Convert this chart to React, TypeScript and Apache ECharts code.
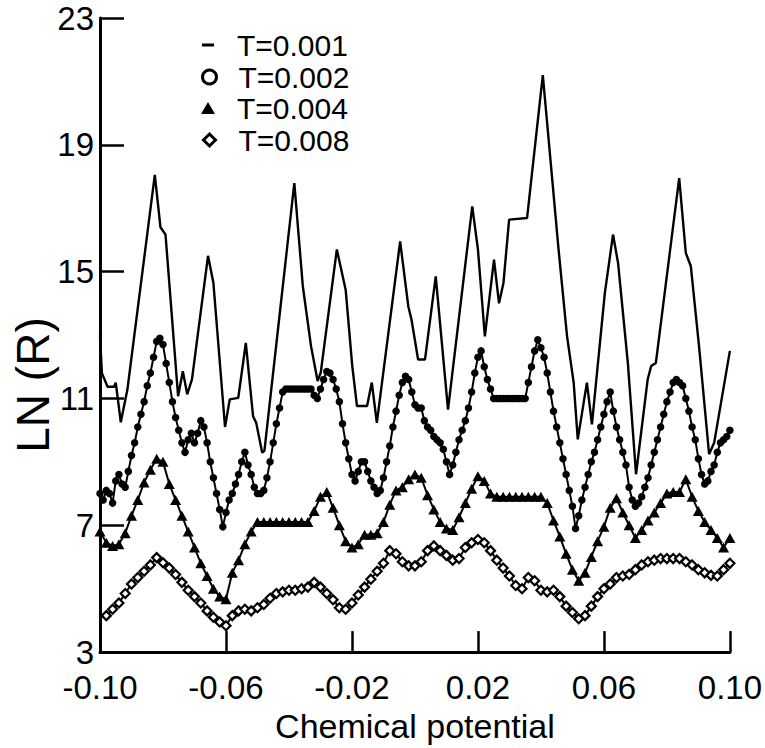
import React, { useEffect, useRef } from "react";
import * as echarts from "echarts";

// ---- Data ----
const X_TICKS = [-0.1, -0.06, -0.02, 0.02, 0.06, 0.1];
const Y_TICKS = [3, 7, 11, 15, 19, 23];
const SERIES_NAMES = ["T=0.001", "T=0.002", "T=0.004", "T=0.008"];

// T=0.001 : plain line, vertices
const T001_X = [-0.1, -0.0994, -0.0976, -0.0955, -0.095, -0.0934, -0.0913, -0.0826, -0.0808, -0.0792,
  -0.0752, -0.0737, -0.0723, -0.0708, -0.0657, -0.064, -0.0603, -0.0588, -0.0561, -0.0537,
  -0.0514, -0.0504, -0.0485, -0.0478, -0.0383, -0.0356, -0.033, -0.0309, -0.0299, -0.0248,
  -0.022, -0.0199, -0.0184, -0.0152, -0.0137, -0.0121, -0.0047, -0.0021, -0.0011, 0.001,
  0.0032, 0.0066, 0.0105, 0.0182, 0.02, 0.0222, 0.0251, 0.0267, 0.0281, 0.0299,
  0.0356, 0.0406, 0.0456, 0.0483, 0.0504, 0.0517, 0.0546, 0.0562, 0.0603, 0.0629,
  0.0645, 0.0676, 0.0702, 0.0739, 0.075, 0.0765, 0.0839, 0.086, 0.0876, 0.0902,
  0.0934, 0.095, 0.1];
const T001_Y = [13.0, 11.8, 11.37, 11.37, 11.5, 10.25, 11.28, 18.05, 16.4, 16.17,
  11.07, 11.86, 11.13, 11.6, 15.5, 14.65, 10.1, 10.97, 11.02, 12.75,
  10.44, 10.23, 9.29, 9.35, 17.79, 14.54, 12.65, 11.55, 11.82, 15.7,
  14.43, 12.02, 10.76, 10.76, 11.5, 10.23, 15.95, 13.9, 13.49, 12.23,
  12.23, 14.85, 10.65, 17.06, 15.7, 12.96, 15.38, 14.0, 14.64, 16.64,
  16.69, 21.2, 15.7, 12.96, 11.5, 9.71, 11.5, 10.18, 14.33, 16.17,
  15.27, 12.12, 8.61, 11.6, 12.02, 12.12, 17.95, 15.59, 15.17, 12.65,
  9.24, 9.6, 12.5];

// T=0.002 : sampled every 0.001 from -0.100 to 0.100
const T002_START = -0.1;
const T002_STEP = 0.001;
const T002_Y = [
  8.0, 7.8, 8.1, 8.0, 7.7, 8.4, 8.6, 8.3, 8.2, 8.7,
  9.2, 9.6, 10.1, 10.5, 10.9, 11.4, 11.8, 12.3, 12.8, 12.9,
  12.7, 12.1, 11.5, 10.9, 10.4, 10.0, 9.6, 9.3, 9.7, 9.9,
  9.6, 9.9, 10.3, 10.1, 9.6, 9.0, 8.5, 8.0, 7.5, 6.95,
  7.4, 7.8, 8.0, 8.3, 8.6, 9.0, 9.3, 8.9, 8.6, 8.2,
  8.0, 8.0, 8.1, 8.5, 9.0, 9.6, 10.2, 10.7, 11.2, 11.3,
  11.3, 11.3, 11.3, 11.3, 11.3, 11.3, 11.3, 11.3, 11.1, 11.0,
  11.3, 11.6, 11.85, 11.8, 11.6, 11.3, 10.9, 10.2, 9.6, 9.1,
  8.6, 8.4, 8.7, 9.0, 9.0, 8.7, 8.4, 8.2, 8.0, 8.1,
  8.5, 9.0, 9.5, 10.1, 10.6, 11.1, 11.5, 11.7, 11.6, 11.2,
  10.8, 10.7, 10.7, 10.3, 10.1, 10.0, 9.8, 9.7, 9.6, 9.4,
  9.0, 8.6, 8.9, 9.3, 9.7, 10.0, 10.3, 10.7, 11.2, 11.8,
  12.3, 12.5, 12.0, 11.6, 11.3, 11.0, 11.0, 11.0, 11.0, 11.0,
  11.0, 11.0, 11.0, 11.0, 11.0, 11.0, 11.5, 12.0, 12.5, 12.85,
  12.6, 12.3, 11.8, 11.2, 10.6, 10.1, 9.6, 9.1, 8.6, 8.1,
  7.6, 6.9, 7.3, 7.8, 8.2, 8.6, 9.0, 9.3, 9.7, 10.1,
  10.5, 10.9, 11.2, 10.6, 10.1, 9.7, 9.3, 8.9, 8.2, 7.8,
  7.6, 7.7, 7.9, 8.2, 8.5, 8.9, 9.3, 9.7, 10.1, 10.5,
  10.9, 11.2, 11.5, 11.6, 11.5, 11.4, 11.0, 10.6, 10.1, 9.7,
  9.1, 8.6, 8.3, 8.4, 8.7, 8.9, 9.3, 9.6, 9.7, 9.8,
  10.0];

// T=0.004 : sampled every 0.002 from -0.100 to 0.100
const T004_START = -0.1;
const T004_STEP = 0.002;
const T004_Y = [
  6.8, 6.45, 6.35, 6.4, 6.75, 7.3, 7.8, 8.35, 8.75, 9.1,
  9.0, 8.3, 7.8, 7.3, 6.8, 6.3, 5.8, 5.4, 5.0, 4.75,
  4.67, 5.5, 5.9, 6.4, 6.8, 7.1, 7.1, 7.1, 7.1, 7.1,
  7.1, 7.1, 7.1, 7.1, 7.45, 7.9, 8.05, 7.55, 7.0, 6.5,
  6.3, 6.4, 6.7, 6.7, 6.75, 7.1, 7.65, 8.1, 8.2, 8.45,
  8.6, 8.5, 7.95, 7.5, 7.1, 6.9, 6.85, 7.25, 7.7, 8.15,
  8.55, 8.4, 8.0, 7.9, 7.9, 7.9, 7.9, 7.9, 7.9, 7.9,
  7.9, 7.7, 7.15, 6.65, 6.1, 5.6, 5.25, 5.5, 6.0, 6.5,
  6.95, 7.55, 7.85, 7.4, 7.0, 6.6, 6.85, 7.15, 7.4, 7.7,
  8.0, 8.05, 8.05, 8.45, 7.9, 7.45, 7.1, 6.85, 6.6, 6.3,
  6.6];

// T=0.008 : sampled every 0.002 from -0.098 to 0.100
const T008_START = -0.098;
const T008_STEP = 0.002;
const T008_Y = [
  4.15, 4.35, 4.55, 4.85, 5.15, 5.35, 5.55, 5.75, 5.98, 5.82,
  5.65, 5.45, 5.2, 4.95, 4.75, 4.55, 4.3, 4.1, 3.95, 3.83,
  4.15, 4.3, 4.35, 4.3, 4.4, 4.5, 4.7, 4.85, 4.9, 4.95,
  4.95, 5.0, 5.05, 5.2, 5.05, 4.85, 4.65, 4.4, 4.35, 4.55,
  4.8, 5.05, 5.3, 5.55, 5.8, 6.2, 6.1, 5.85, 5.72, 5.72,
  5.85, 6.2, 6.35, 6.2, 6.05, 5.9, 5.95, 6.3, 6.45, 6.55,
  6.45, 6.2, 5.9, 5.65, 5.4, 5.1, 5.0, 5.35, 5.25, 4.95,
  4.9, 4.95, 4.75, 4.45, 4.25, 4.05, 4.15, 4.45, 4.75, 5.0,
  5.15, 5.35, 5.4, 5.45, 5.6, 5.75, 5.85, 5.9, 5.95, 5.95,
  5.95, 5.95, 5.85, 5.75, 5.6, 5.5, 5.42, 5.4, 5.6, 5.8];

const FONT = "Liberation Sans, Arial, sans-serif";

function gridPairs(start: number, step: number, ys: number[]) {
  return ys.map((v, i) => [Number((start + i * step).toFixed(4)), v]);
}

export default function App() {
  const ref = useRef<HTMLDivElement>(null);

  useEffect(() => {
    if (!ref.current) return;
    const chart = echarts.init(ref.current, undefined, { renderer: "svg" });

    const legendBase = {
      orient: "horizontal",
      padding: 0,
      itemGap: 0,
      selectedMode: false,
    };
    const legendText = (padLeft: number) => ({
      fontSize: 30,
      lineHeight: 30,
      fontFamily: FONT,
      color: "#000",
      padding: [0, 0, 0, padLeft],
    });

    const option: any = {
      animation: false,
      backgroundColor: "#fff",
      grid: { left: 100, right: 31, top: 18, bottom: 93, containLabel: false },
      xAxis: {
        type: "value",
        min: -0.1,
        max: 0.1,
        name: "Chemical potential",
        nameLocation: "middle",
        nameGap: 46,
        nameTextStyle: { fontSize: 34, fontFamily: FONT, color: "#000" },
        axisLine: { show: true, onZero: false, lineStyle: { color: "#000", width: 3 } },
        axisTick: {
          show: true,
          inside: true,
          length: 21,
          customValues: X_TICKS,
          lineStyle: { color: "#000", width: 2.5 },
        },
        axisLabel: {
          show: true,
          customValues: X_TICKS,
          margin: 19,
          fontSize: 33,
          fontFamily: FONT,
          color: "#000",
          formatter: (v: number) => v.toFixed(2),
        },
        splitLine: { show: false },
      },
      yAxis: {
        type: "value",
        min: 3,
        max: 23,
        axisLine: { show: true, onZero: false, lineStyle: { color: "#000", width: 3 } },
        axisTick: {
          show: true,
          inside: true,
          length: 24,
          customValues: Y_TICKS,
          lineStyle: { color: "#000", width: 2.5 },
        },
        axisLabel: {
          show: true,
          customValues: Y_TICKS,
          margin: 6,
          fontSize: 33,
          fontFamily: FONT,
          color: "#000",
          formatter: (v: number) => String(v),
        },
        splitLine: { show: false },
      },
      legend: [
        {
          ...legendBase,
          left: 202,
          top: 30,
          itemWidth: 12,
          itemHeight: 3,
          textStyle: legendText(18),
          data: [{ name: SERIES_NAMES[0], icon: "rect", itemStyle: { color: "#000" } }],
        },
        {
          ...legendBase,
          left: 201,
          top: 62,
          itemWidth: 14,
          itemHeight: 14,
          textStyle: legendText(17),
          data: [{ name: SERIES_NAMES[1], icon: "circle", itemStyle: { color: "#fff", borderColor: "#000", borderWidth: 3 } }],
        },
        {
          ...legendBase,
          left: 201,
          top: 93,
          itemWidth: 14,
          itemHeight: 12,
          textStyle: legendText(17),
          data: [{ name: SERIES_NAMES[2], icon: "triangle", itemStyle: { color: "#000" } }],
        },
        {
          ...legendBase,
          left: 202,
          top: 125,
          itemWidth: 12,
          itemHeight: 12,
          textStyle: legendText(18),
          data: [{ name: SERIES_NAMES[3], icon: "diamond", itemStyle: { color: "#fff", borderColor: "#000", borderWidth: 3 } }],
        },
      ],
      graphic: [
        {
          type: "text",
          x: 33,
          y: 385,
          rotation: Math.PI / 2,
          style: {
            text: "LN (R)",
            fontSize: 46,
            fontFamily: FONT,
            fill: "#000",
            align: "center",
            verticalAlign: "middle",
            textAlign: "center",
            textVerticalAlign: "middle",
          },
        },
      ],
      series: [
        {
          name: SERIES_NAMES[0],
          type: "line",
          data: T001_X.map((x, i) => [x, T001_Y[i]]),
          symbol: "none",
          color: "#000",
          lineStyle: { color: "#000", width: 2.4 },
          z: 5,
        },
        {
          name: SERIES_NAMES[1],
          type: "line",
          data: gridPairs(T002_START, T002_STEP, T002_Y),
          symbol: "circle",
          symbolSize: 7.5,
          showAllSymbol: true,
          color: "#000",
          itemStyle: { color: "#000" },
          lineStyle: { color: "#000", width: 2 },
          z: 4,
        },
        {
          name: SERIES_NAMES[2],
          type: "line",
          data: gridPairs(T004_START, T004_STEP, T004_Y),
          symbol: "triangle",
          symbolSize: [11, 10],
          showAllSymbol: true,
          color: "#000",
          itemStyle: { color: "#000" },
          lineStyle: { color: "#000", width: 2 },
          z: 3,
        },
        {
          name: SERIES_NAMES[3],
          type: "line",
          data: gridPairs(T008_START, T008_STEP, T008_Y),
          symbol: "diamond",
          symbolSize: 9,
          showAllSymbol: true,
          color: "#000",
          itemStyle: { color: "#fff", borderColor: "#000", borderWidth: 2.2 },
          lineStyle: { color: "#000", width: 2 },
          z: 2,
        },
      ],
    };

    chart.setOption(option);
    return () => chart.dispose();
  }, []);

  return (
    <div
      ref={ref}
      style={{ position: "fixed", left: 0, top: 0, width: 765, height: 748, background: "#fff" }}
    />
  );
}
